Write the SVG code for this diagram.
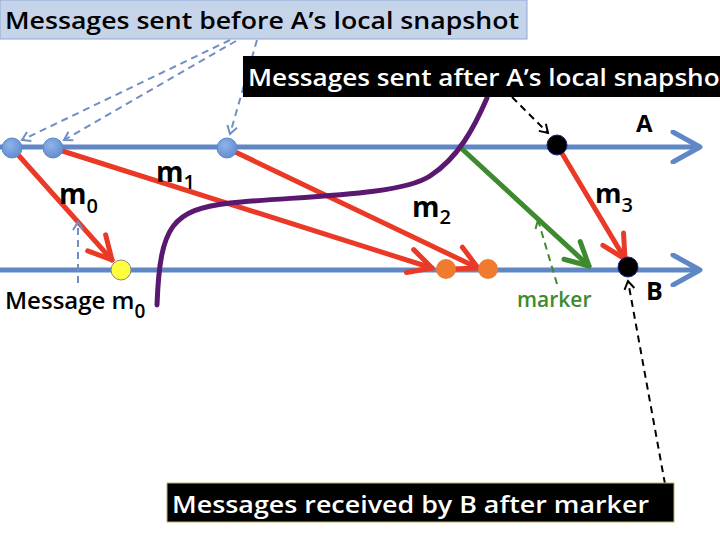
<svg xmlns="http://www.w3.org/2000/svg" width="720" height="540" viewBox="0 0 720 540">
<style>
.t{font-family:"Open Sans","DejaVu Sans",sans-serif;font-weight:600}
.tl{stroke:#5f87c4;stroke-width:5;fill:none}
.msg{stroke:#ea3a27;stroke-width:5;fill:none;stroke-linecap:round}
.dashb{stroke:#6f8fc6;stroke-width:2;stroke-dasharray:7,5;fill:none}
.dashk{stroke:#000;stroke-width:2;stroke-dasharray:7,5;fill:none}
.dashg{stroke:#3e8a2e;stroke-width:2;stroke-dasharray:7,5;fill:none}
.lbl{font-family:"Open Sans","DejaVu Sans",sans-serif;font-weight:700;font-size:28px;fill:#000}
.sub{font-size:20px;font-weight:600}
</style>
<defs>
<radialGradient id="gb" cx="0.4" cy="0.35" r="0.7">
<stop offset="0" stop-color="#8fb3ea"/><stop offset="1" stop-color="#5f8bd0"/>
</radialGradient>
<marker id="ar" viewBox="0 0 30 30" refX="27" refY="15" markerWidth="30" markerHeight="30" markerUnits="userSpaceOnUse" orient="auto">
<path d="M4,3 L27,15 L4,27" fill="none" stroke="#ea3a27" stroke-width="5" stroke-linecap="round" stroke-linejoin="round"/>
</marker>
<marker id="ag" viewBox="0 0 30 30" refX="27" refY="15" markerWidth="30" markerHeight="30" markerUnits="userSpaceOnUse" orient="auto">
<path d="M4,3 L27,15 L4,27" fill="none" stroke="#3e8a2e" stroke-width="5" stroke-linecap="round" stroke-linejoin="round"/>
</marker>
<marker id="at" viewBox="0 0 34 34" refX="31" refY="17" markerWidth="34" markerHeight="34" markerUnits="userSpaceOnUse" orient="auto">
<path d="M4,2 L31,17 L4,32" fill="none" stroke="#5f87c4" stroke-width="5" stroke-linecap="round" stroke-linejoin="round"/>
</marker>
<marker id="adb" viewBox="0 0 12 12" refX="10" refY="6" markerWidth="12" markerHeight="12" markerUnits="userSpaceOnUse" orient="auto">
<path d="M2,1 L10,6 L2,11" fill="none" stroke="#6f8fc6" stroke-width="2"/>
</marker>
<marker id="adk" viewBox="0 0 12 12" refX="10" refY="6" markerWidth="12" markerHeight="12" markerUnits="userSpaceOnUse" orient="auto">
<path d="M2,1 L10,6 L2,11" fill="none" stroke="#000" stroke-width="2"/>
</marker>
<marker id="adg" viewBox="0 0 12 12" refX="10" refY="6" markerWidth="12" markerHeight="12" markerUnits="userSpaceOnUse" orient="auto">
<path d="M2,1 L10,6 L2,11" fill="none" stroke="#3e8a2e" stroke-width="2"/>
</marker>
</defs>
<rect width="720" height="540" fill="#fff"/>

<g id="timelines">
<line class="tl" x1="0" y1="147" x2="700" y2="147" marker-end="url(#at)"/>
<line class="tl" x1="0" y1="270" x2="700" y2="270" marker-end="url(#at)"/>
<text class="lbl" x="636" y="132" style="font-size:24px">A</text>
<text class="lbl" x="646" y="300" style="font-size:25px">B</text>
</g>

<g id="connectors">
<line class="msg" x1="12" y1="148" x2="112" y2="260" marker-end="url(#ar)"/>
<line class="msg" x1="53" y1="148" x2="432" y2="268" marker-end="url(#ar)"/>
<line class="msg" x1="227" y1="148" x2="478" y2="268" marker-end="url(#ar)"/>
<line class="msg" x1="557" y1="145" x2="625" y2="259" marker-end="url(#ar)"/>
<line stroke="#3e8a2e" stroke-width="5" stroke-linecap="round" x1="461" y1="148" x2="589" y2="266" marker-end="url(#ag)"/>
<path d="M157,305 C160,225 172,210 230,203 C300,196 400,196 430,176 C458,158 474,128 487,98" fill="none" stroke="#5a1870" stroke-width="5" stroke-linecap="round"/>
<line class="dashb" x1="230" y1="40" x2="22" y2="140" marker-end="url(#adb)"/>
<line class="dashb" x1="236" y1="41" x2="64" y2="140" marker-end="url(#adb)"/>
<line class="dashb" x1="257" y1="40" x2="230" y2="134" marker-end="url(#adb)"/>
<line class="dashb" x1="78" y1="283" x2="78" y2="222" marker-end="url(#adb)"/>
<line class="dashk" x1="512" y1="97" x2="548" y2="133" marker-end="url(#adk)"/>
<line class="dashg" x1="557" y1="284" x2="538" y2="220" marker-end="url(#adg)"/>
<line class="dashk" x1="665" y1="484" x2="628" y2="281" marker-end="url(#adk)"/>
</g>

<g id="nodes">
<circle id="a1" cx="12" cy="148" r="10" fill="url(#gb)" stroke="#5f87c4" stroke-width="1"/>
<circle id="a2" cx="53" cy="148" r="10" fill="url(#gb)" stroke="#5f87c4" stroke-width="1"/>
<circle id="a3" cx="227" cy="148" r="10" fill="url(#gb)" stroke="#5f87c4" stroke-width="1"/>
<circle id="a4" cx="557" cy="145" r="10" fill="#000" stroke="#1a237e" stroke-width="1"/>
<circle id="b1" cx="121" cy="270" r="10" fill="#ffff40" stroke="#888" stroke-width="1"/>
<circle id="b2" cx="446" cy="269" r="10" fill="#f07a2e"/>
<circle id="b3" cx="488" cy="269" r="10" fill="#f07a2e"/>
<circle id="b4" cx="628" cy="267" r="10" fill="#000" stroke="#1a237e" stroke-width="1"/>
</g>

<g id="labels">
<text class="lbl" x="59" y="204">m<tspan class="sub" dy="9">0</tspan></text>
<text class="lbl" x="156" y="182">m<tspan class="sub" dy="7">1</tspan></text>
<text class="lbl" x="412" y="217">m<tspan class="sub" dy="7">2</tspan></text>
<text class="lbl" x="595" y="203" style="font-size:27px">m<tspan class="sub" dy="9">3</tspan></text>
<text class="lbl" x="5" y="309" style="font-size:24px;font-weight:600">Message m<tspan class="sub" style="font-size:19px" dy="9">0</tspan></text>
<text class="t" x="517" y="307" style="font-size:21px;fill:#3e8a2e">marker</text>
</g>

<g id="box-before">
<rect x="0" y="0" width="527" height="39" fill="#c6d4ea" stroke="#8ea7d4" stroke-width="1"/>
<text class="t" x="5" y="29" style="font-size:23px" textLength="514" lengthAdjust="spacingAndGlyphs">Messages sent before A’s local snapshot</text>
</g>

<g id="box-after">
<rect x="243" y="56" width="480" height="41" fill="#000"/>
<text class="t" x="248" y="86" style="font-size:23px;fill:#fff" textLength="482" lengthAdjust="spacingAndGlyphs">Messages sent after A’s local snapshot</text>
</g>

<g id="box-received">
<rect x="167" y="483" width="507" height="39" fill="#000" stroke="#b9b46a" stroke-width="1"/>
<text class="t" x="172" y="513" style="font-size:23px;fill:#fff" textLength="477" lengthAdjust="spacingAndGlyphs">Messages received by B after marker</text>
</g>
</svg>
